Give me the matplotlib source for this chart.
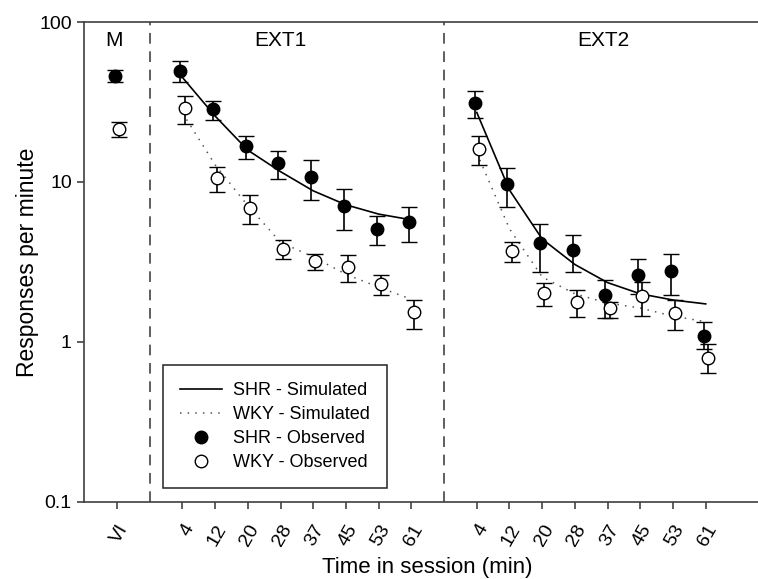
import numpy as np
import matplotlib.pyplot as plt
import matplotlib.transforms as mtransforms
from matplotlib.lines import Line2D

plt.rcParams['font.family'] = ['Liberation Sans', 'DejaVu Sans']

# tick positions: VI at 0, EXT1 at 2..9, EXT2 at 11..18
tick_labels = ["VI", "4", "12", "20", "28", "37", "45", "53", "61",
               "4", "12", "20", "28", "37", "45", "53", "61"]
pos_vi = [0]
pos_ext1 = [2, 3, 4, 5, 6, 7, 8, 9]
pos_ext2 = [11, 12, 13, 14, 15, 16, 17, 18]

# observed means and error bar ends (upper, lower)
shr_vi = [46.0]
shr_vi_hi = [50.1]
shr_vi_lo = [42.2]
wky_vi = [21.3]
wky_vi_hi = [23.7]
wky_vi_lo = [19.1]

shr_ext1 = [49.4, 28.5, 16.8, 13.1, 10.8, 7.1, 5.1, 5.65]
shr_ext1_hi = [57.0, 32.3, 19.5, 15.7, 13.7, 9.1, 6.16, 6.98]
shr_ext1_lo = [42.2, 24.4, 14.0, 10.4, 7.7, 5.0, 4.02, 4.19]
wky_ext1 = [28.9, 10.6, 6.9, 3.82, 3.2, 2.95, 2.3, 1.53]
wky_ext1_hi = [34.5, 12.4, 8.3, 4.34, 3.56, 3.5, 2.61, 1.83]
wky_ext1_lo = [23.0, 8.7, 5.5, 3.3, 2.83, 2.36, 1.98, 1.21]

shr_ext2 = [31.3, 9.7, 4.17, 3.74, 1.97, 2.64, 2.78, 1.09]
shr_ext2_hi = [37.3, 12.3, 5.5, 4.69, 2.44, 3.29, 3.54, 1.34]
shr_ext2_lo = [25.0, 7.0, 2.74, 2.74, 1.42, 2.0, 1.97, 0.9]
wky_ext2 = [16.0, 3.68, 2.01, 1.79, 1.62, 1.93, 1.52, 0.80]
wky_ext2_hi = [19.4, 4.23, 2.33, 2.11, 1.79, 2.38, 1.83, 0.97]
wky_ext2_lo = [12.8, 3.16, 1.68, 1.44, 1.41, 1.45, 1.19, 0.637]

# simulated curves
shr_sim_ext1 = [45.0, 25.8, 15.8, 11.6, 8.8, 7.2, 6.3, 5.8]
shr_sim_ext2 = [27.2, 8.9, 4.4, 3.05, 2.35, 2.0, 1.83, 1.73]
wky_sim_ext1 = [27.0, 12.8, 7.1, 4.2, 3.4, 2.65, 2.2, 1.85]
wky_sim_ext2 = [15.2, 5.1, 2.55, 2.0, 1.75, 1.63, 1.45, 1.34]

fig = plt.figure(figsize=(7.58, 5.79), dpi=100)
ax = fig.add_axes([0.1113, 0.133, 0.906, 0.829])
ax.set_yscale('log')
ax.set_xlim(-1, 20)
ax.set_ylim(0.1, 100)

dot_style = (0, (1, 4))
for px, sim in [(pos_ext1, shr_sim_ext1), (pos_ext2, shr_sim_ext2)]:
    ax.plot(px, sim, color='black', lw=1.2, zorder=2)
for px, sim in [(pos_ext1, wky_sim_ext1), (pos_ext2, wky_sim_ext2)]:
    ax.plot(px, sim, color='#555555', lw=1.1, linestyle=dot_style, zorder=2)

off = 0.065
eb = dict(fmt='o', ms=9, capsize=5.5, elinewidth=1.2, capthick=1.2, ecolor='black',
          markeredgecolor='black', markeredgewidth=1.0, zorder=3)
shr_groups = [(pos_vi, shr_vi, shr_vi_hi, shr_vi_lo),
              (pos_ext1, shr_ext1, shr_ext1_hi, shr_ext1_lo),
              (pos_ext2, shr_ext2, shr_ext2_hi, shr_ext2_lo)]
wky_groups = [(pos_vi, wky_vi, wky_vi_hi, wky_vi_lo),
              (pos_ext1, wky_ext1, wky_ext1_hi, wky_ext1_lo),
              (pos_ext2, wky_ext2, wky_ext2_hi, wky_ext2_lo)]
for px, m, hi, lo in shr_groups:
    m = np.array(m)
    err = [m - np.array(lo), np.array(hi) - m]
    ax.errorbar(np.array(px) - off, m, yerr=err, markerfacecolor='black', **eb)
for px, m, hi, lo in wky_groups:
    m = np.array(m)
    err = [m - np.array(lo), np.array(hi) - m]
    ax.errorbar(np.array(px) + off, m, yerr=err, markerfacecolor='white', **eb)

# phase separators
for xv in [1, 10]:
    ax.axvline(xv, color='#333333', lw=1.1, linestyle=(0, (7, 5)), zorder=1)

ax.text(-0.1, 0.962, "M", transform=ax.get_xaxis_transform(), ha='center', va='center', fontsize=15)
ax.text(4.98, 0.962, "EXT1", transform=ax.get_xaxis_transform(), ha='center', va='center', fontsize=15)
ax.text(14.86, 0.962, "EXT2", transform=ax.get_xaxis_transform(), ha='center', va='center', fontsize=15)

ax.set_yticks([0.1, 1, 10, 100])
ax.set_yticklabels(["0.1", "1", "10", "100"])
ax.yaxis.set_minor_locator(plt.NullLocator())
ax.set_xticks(pos_vi + pos_ext1 + pos_ext2)
ax.set_xticklabels(tick_labels, rotation=60, ha='right', va='top', rotation_mode='anchor')
shift = mtransforms.ScaledTranslation(-4 / 100, 0, fig.dpi_scale_trans)
for lab in ax.get_xticklabels():
    lab.set_transform(lab.get_transform() + shift)
ax.tick_params(axis='both', direction='out', length=5, width=1.1, labelsize=14, color='#333333')
ax.tick_params(axis='x', pad=9)
ax.tick_params(axis='y', pad=4)

for s in ['left', 'top', 'bottom']:
    ax.spines[s].set_color('#404040')
    ax.spines[s].set_linewidth(1.2)
ax.spines['right'].set_visible(False)

ax.set_ylabel("Responses per minute", fontsize=16.5, labelpad=0)
ax.set_xlabel("Time in session (min)", fontsize=16, labelpad=6)

handles = [Line2D([], [], color='black', lw=1.2),
           Line2D([], [], color='#555555', lw=1.1, linestyle=dot_style),
           Line2D([], [], color='black', marker='o', ms=9, linestyle='none',
                  markerfacecolor='black', markeredgecolor='black'),
           Line2D([], [], color='black', marker='o', ms=9, linestyle='none',
                  markerfacecolor='white', markeredgecolor='black')]
labels = ["SHR - Simulated", "WKY - Simulated", "SHR - Observed", "WKY - Observed"]
leg = ax.legend(handles, labels, loc='lower left', bbox_to_anchor=(0.115, 0.029),
                fontsize=13, frameon=True, fancybox=False, framealpha=1,
                edgecolor='#222222', handlelength=2.3, labelspacing=0.38,
                borderpad=0.95, handletextpad=0.6, borderaxespad=0)
leg.get_frame().set_linewidth(1.1)

fig.savefig("out.png", dpi=100)
